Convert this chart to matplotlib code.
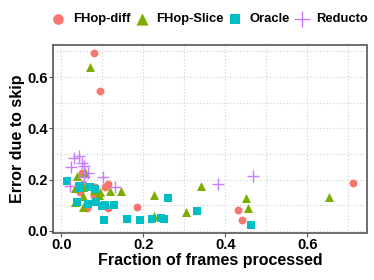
"""Error due to skip vs. fraction of frames processed."""

import matplotlib
matplotlib.use("Agg")
import matplotlib.pyplot as plt
from matplotlib.ticker import MultipleLocator

plt.rcParams["font.family"] = ["Liberation Sans", "DejaVu Sans"]
plt.rcParams["font.weight"] = "bold"

# FHop-diff
diff_x = [0.079, 0.095, 0.054, 0.079, 0.062, 0.115, 0.107, 0.114, 0.184,
          0.050, 0.083, 0.046, 0.430, 0.441, 0.710]
diff_y = [0.693, 0.546, 0.183, 0.138, 0.091, 0.183, 0.173, 0.088, 0.092,
          0.225, 0.173, 0.151, 0.082, 0.043, 0.186]

# FHop-Slice
slice_x = [0.069, 0.038, 0.057, 0.034, 0.054, 0.079, 0.095, 0.091, 0.119,
           0.146, 0.034, 0.053, 0.053, 0.227, 0.226, 0.303, 0.340, 0.450,
           0.454, 0.652]
slice_y = [0.638, 0.216, 0.231, 0.166, 0.173, 0.160, 0.153, 0.140, 0.157,
           0.157, 0.114, 0.138, 0.095, 0.140, 0.060, 0.075, 0.174, 0.130,
           0.088, 0.131]

# Oracle
oracle_x = [0.015, 0.038, 0.066, 0.085, 0.099, 0.107, 0.129, 0.105, 0.160,
            0.193, 0.222, 0.244, 0.251, 0.259, 0.332, 0.462, 0.042, 0.071,
            0.083, 0.046]
oracle_y = [0.194, 0.112, 0.104, 0.112, 0.099, 0.101, 0.100, 0.043, 0.047,
            0.041, 0.047, 0.051, 0.046, 0.127, 0.078, 0.023, 0.177, 0.173,
            0.162, 0.166]

# Reducto
reducto_x = [0.022, 0.024, 0.030, 0.042, 0.050, 0.055, 0.066, 0.055, 0.101,
             0.130, 0.383, 0.468]
reducto_y = [0.176, 0.251, 0.283, 0.294, 0.264, 0.252, 0.225, 0.212, 0.212,
             0.173, 0.182, 0.216]

fig = plt.figure(figsize=(3.74, 2.80), dpi=100)
ax = fig.add_axes([53.5 / 374, 1 - 232.5 / 280, 313 / 374, 187.5 / 280])

ax.scatter(diff_x, diff_y, s=32, marker="o", color="#F8766D", linewidths=0,
           label="FHop-diff", zorder=3)
ax.scatter(slice_x, slice_y, s=42, marker="^", color="#7CAE00", linewidths=0,
           label="FHop-Slice", zorder=3)
ax.scatter(oracle_x, oracle_y, s=30, marker="s", color="#00BFC4", linewidths=0,
           label="Oracle", zorder=3)
ax.scatter(reducto_x, reducto_y, s=70, marker="+", color="#C77CFF",
           linewidths=1.0, label="Reducto", zorder=3)

ax.set_xlim(-0.019, 0.744)
ax.set_ylim(-0.006, 0.725)
ax.xaxis.set_major_locator(MultipleLocator(0.2))
ax.xaxis.set_minor_locator(MultipleLocator(0.1))
ax.yaxis.set_major_locator(MultipleLocator(0.2))
ax.yaxis.set_minor_locator(MultipleLocator(0.1))
ax.xaxis.set_major_formatter(lambda v, p: f"{v:.1f}")
ax.yaxis.set_major_formatter(lambda v, p: f"{v:.1f}")

ax.grid(True, which="both", color="#cfcfcf", linestyle=(0, (1, 2)),
        linewidth=0.8, zorder=0)
ax.set_axisbelow(True)
for sp in ax.spines.values():
    sp.set_color("#555555")
    sp.set_linewidth(1.2)
ax.tick_params(which="major", length=3, color="#555555", width=0.8,
               labelsize=10.5, pad=1)
ax.tick_params(which="minor", length=0)
for lab in ax.get_xticklabels() + ax.get_yticklabels():
    lab.set_fontweight("bold")

ax.set_xlabel("Fraction of frames processed", fontsize=11.5, fontweight="bold",
              labelpad=1)
ax.set_ylabel("Error due to skip", fontsize=11.5, fontweight="bold", labelpad=2)

ax.legend(loc="center left", bbox_to_anchor=(52.5 / 374, 1 - 19 / 280),
          bbox_transform=fig.transFigure, ncol=4, frameon=False,
          prop={"size": 9.4, "weight": "bold"}, handletextpad=0.7,
          columnspacing=0.45, handlelength=0.85, borderpad=0, borderaxespad=0,
          markerscale=1.35)

fig.savefig("out.png", dpi=100)
